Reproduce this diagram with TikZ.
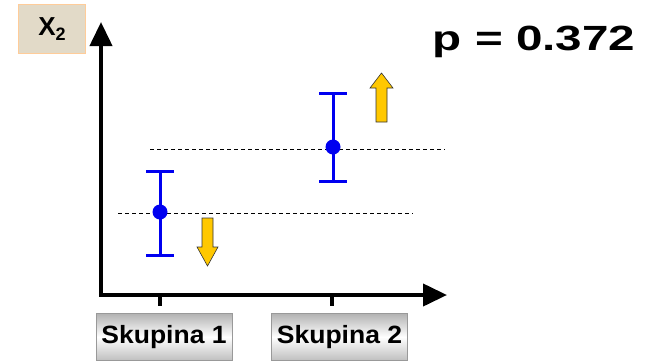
\documentclass[tikz,border=0pt]{standalone}
\usepackage{graphicx}
\usepackage{fontspec}
\setmainfont{Liberation Sans}
\usetikzlibrary{arrows.meta,shadings}
\definecolor{barblue}{RGB}{0,0,240}
\definecolor{arrowgold}{RGB}{255,200,0}
\definecolor{paper}{RGB}{226,218,200}
\tikzset{
  axisline/.style={line width=4pt,-{Triangle[width=22pt,length=24pt]}},
  errbar/.style={barblue,line width=3pt},
  meanpt/.style={circle,fill=barblue,inner sep=0pt,minimum size=15pt},
  guide/.style={dashed,line width=0.6pt,dash pattern=on 4pt off 3pt},
  grouplabel/.style={draw=gray!80,line width=0.8pt,minimum width=136pt,minimum height=47pt,
    top color=gray!60,bottom color=gray!50,middle color=white,
    font=\fontsize{25}{27}\selectfont\bfseries,inner sep=0pt},
  fatarrow/.style={fill=arrowgold,draw=black!80,line width=0.6pt}
}
\begin{document}
\begin{tikzpicture}[x=1pt,y=-1pt]
\useasboundingbox (0,0) rectangle (650,362);
% X2 label
\node[fill=paper,draw=orange!40,line width=0.8pt,minimum width=67pt,minimum height=49pt,inner sep=0pt,
  font=\fontsize{26}{28}\selectfont\bfseries] (xlab) at (52,29) {X\raisebox{-0.22em}{\fontsize{18}{20}\selectfont 2}};
% axes
\coordinate (o) at (101,295);
\coordinate (ytop) at (101,22);
\coordinate (xend) at (447,295);
\draw[axisline] (o) -- (ytop);
\draw[axisline] ([xshift=-2pt]o) -- (xend);
% ticks
\coordinate (t1) at (160,295);
\coordinate (t2) at (332,295);
\draw[line width=4pt] (t1) -- ++(0,11);
\draw[line width=4pt] (t2) -- ++(0,11);
% dashed guides
\coordinate (d1a) at (118,213); \coordinate (d1b) at (413,213);
\coordinate (d2a) at (150,149); \coordinate (d2b) at (445,149);
\draw[guide] (d1a) -- (d1b);
\draw[guide] (d2a) -- (d2b);
% error bar 1
\coordinate (e1t) at (160,171); \coordinate (e1b) at (160,255);
\draw[errbar] (e1t) -- (e1b);
\draw[errbar] ([xshift=-14pt]e1t) -- ([xshift=14pt]e1t);
\draw[errbar] ([xshift=-14pt]e1b) -- ([xshift=14pt]e1b);
\node[meanpt] (m1) at (160,212) {};
% error bar 2
\coordinate (e2t) at (333,93); \coordinate (e2b) at (333,181);
\draw[errbar] (e2t) -- (e2b);
\draw[errbar] ([xshift=-14pt]e2t) -- ([xshift=14pt]e2t);
\draw[errbar] ([xshift=-14pt]e2b) -- ([xshift=14pt]e2b);
\node[meanpt] (m2) at (333,147) {};
% fat arrows
\draw[fatarrow] (202,218) -- (213,218) -- (213,247) -- (218,247) -- (207.5,266) -- (197,247) -- (202,247) -- cycle;
\draw[fatarrow] (376,122) -- (387,122) -- (387,88) -- (393,88) -- (381.5,73) -- (370,88) -- (376,88) -- cycle;
% p value
\node[font=\fontsize{35}{38}\selectfont\bfseries,anchor=center,inner sep=0pt] (pval) at (534,42) {\scalebox{1.36}[1]{p = 0.372}};
% group labels
\node[grouplabel] (g1) at (164,337) {\scalebox{1.06}[1]{Skupina 1}};
\node[grouplabel] (g2) at (339.5,337) {\scalebox{1.06}[1]{Skupina 2}};
\end{tikzpicture}
\end{document}
